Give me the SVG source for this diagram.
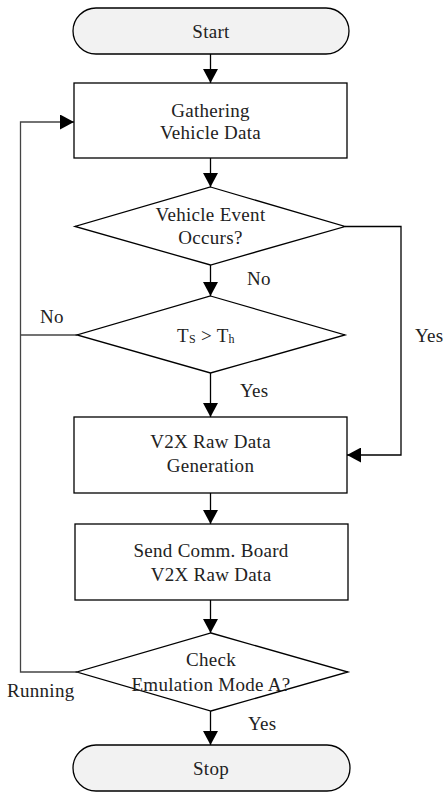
<svg xmlns="http://www.w3.org/2000/svg" width="445" height="792" viewBox="0 0 445 792">
  <defs>
    <marker id="arrow" viewBox="0 0 14 15" refX="14" refY="7.5" markerWidth="14" markerHeight="15" markerUnits="userSpaceOnUse" orient="auto">
      <path d="M0,0 L14,7.5 L0,15 Z" fill="#000"/>
    </marker>
    <style>
      .shape { fill: #fff; stroke: #000; stroke-width: 1.3; }
      .term { fill: #f2f2f2; stroke: #000; stroke-width: 1.3; }
      .line { fill: none; stroke: #000; stroke-width: 1.3; }
      .loop { fill: none; stroke: #444; stroke-width: 1.3; }
      .c { text-anchor: middle; }
      .sub { font-size: 12px; }
    </style>
  </defs>

  <!-- connectors -->
  <g id="connectors">
    <line class="line" x1="210.5" y1="54" x2="210.5" y2="83" marker-end="url(#arrow)"/>
    <line class="line" x1="210.5" y1="158" x2="210.5" y2="187" marker-end="url(#arrow)"/>
    <line class="line" x1="210.5" y1="265" x2="210.5" y2="296" marker-end="url(#arrow)"/>
    <line class="line" x1="210.5" y1="373" x2="210.5" y2="417" marker-end="url(#arrow)"/>
    <line class="line" x1="210.5" y1="493" x2="210.5" y2="524" marker-end="url(#arrow)"/>
    <line class="line" x1="210.5" y1="600" x2="210.5" y2="633" marker-end="url(#arrow)"/>
    <line class="line" x1="210.5" y1="711" x2="210.5" y2="745" marker-end="url(#arrow)"/>
    <!-- Yes branch of the vehicle event check -->
    <polyline class="line" points="345,226.5 401,226.5 401,455 347,455" marker-end="url(#arrow)"/>
    <!-- return loops to data gathering -->
    <polyline class="loop" points="77,672 20.5,672 20.5,122 74,122" marker-end="url(#arrow)"/>
    <line class="loop" x1="77" y1="335" x2="20.5" y2="335"/>
  </g>

  <g font-family="'Liberation Serif', 'Times New Roman', serif" font-size="19" fill="#222" letter-spacing="0.3">
    <g id="start">
      <rect class="term" x="73" y="8" width="276" height="46" rx="23" ry="23"/>
      <text class="c" x="211" y="38">Start</text>
    </g>

    <g id="gather">
      <rect class="shape" x="74" y="83" width="273" height="75"/>
      <text class="c" x="210.5" y="117">Gathering</text>
      <text class="c" x="210.5" y="139">Vehicle Data</text>
    </g>

    <g id="event">
      <polygon class="shape" points="210.5,187 345,226.5 210.5,265 75,226.5"/>
      <text class="c" x="210.5" y="221">Vehicle Event</text>
      <text class="c" x="210.5" y="244">Occurs?</text>
    </g>

    <g id="threshold">
      <polygon class="shape" points="210.5,296 345,335 210.5,373 77,335"/>
      <text x="177" y="342">T<tspan class="sub" dy="1">S</tspan><tspan dy="-1"> &gt; T</tspan><tspan class="sub" dy="1">h</tspan></text>
    </g>

    <g id="generate">
      <rect class="shape" x="74" y="417" width="273" height="76"/>
      <text class="c" x="210.5" y="448">V2X Raw Data</text>
      <text class="c" x="210.5" y="472">Generation</text>
    </g>

    <g id="send">
      <rect class="shape" x="75" y="524" width="273" height="76"/>
      <text class="c" x="211" y="557">Send Comm. Board</text>
      <text class="c" x="211" y="581">V2X Raw Data</text>
    </g>

    <g id="mode">
      <polygon class="shape" points="211,633 348,672 211,711 77,672"/>
      <text class="c" x="211" y="666">Check</text>
      <text class="c" x="211" y="691">Emulation Mode A?</text>
    </g>

    <g id="stop">
      <rect class="term" x="73" y="745" width="277" height="46" rx="23" ry="23"/>
      <text class="c" x="211" y="775">Stop</text>
    </g>

    <g id="labels">
      <text x="247" y="285">No</text>
      <text x="40" y="323">No</text>
      <text x="415" y="342">Yes</text>
      <text x="240" y="397">Yes</text>
      <text x="7" y="697">Running</text>
      <text x="248" y="730">Yes</text>
    </g>
  </g>
</svg>
